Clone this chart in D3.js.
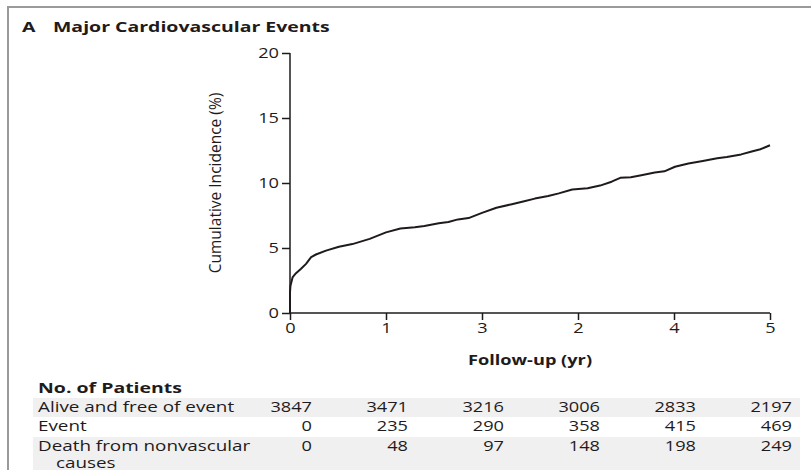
<!DOCTYPE html>
<html>
<head>
<meta charset="utf-8">
<script src="https://cdn.jsdelivr.net/npm/d3@7"></script>
<style>
  body { margin: 0; background: #fff; }
  text { font-family: "Open Sans", "Noto Sans", sans-serif; fill: #1f1b1c; }
</style>
</head>
<body>
<div id="chart_area"></div>
<script>
// Data
var years = [0, 0, 0.005, 0.028, 0.0625, 0.115, 0.167, 0.22, 0.27, 0.375, 0.51, 0.65, 0.83, 1.0, 1.15,
             1.3, 1.4, 1.55, 1.65, 1.75, 1.86, 2.0, 2.15, 2.3, 2.44, 2.55, 2.69, 2.8, 2.94, 3.1, 3.23,
             3.35, 3.44, 3.55, 3.66, 3.8, 3.9, 4.01, 4.15, 4.3, 4.45, 4.55, 4.7, 4.8, 4.9, 5.0];
var incidence = [0, 1.6, 2.1, 2.76, 3.06, 3.4, 3.78, 4.3, 4.5, 4.8, 5.1, 5.3, 5.7, 6.2, 6.5,
                 6.6, 6.7, 6.9, 7.0, 7.2, 7.3, 7.7, 8.1, 8.35, 8.6, 8.8, 9.0, 9.2, 9.5, 9.6, 9.8,
                 10.1, 10.4, 10.45, 10.6, 10.8, 10.9, 11.25, 11.5, 11.7, 11.9, 12.0, 12.2, 12.4, 12.6, 12.9];
var xTicks = [0, 1, 2, 3, 4, 5];
var xTickLabels = ["0", "1", "3", "2", "4", "5"];   // as printed in the original
var yTicks = [0, 5, 10, 15, 20];

var rowLabels = [["Alive and free of event"], ["Event"], ["Death from nonvascular", "causes"]];
var aliveFree = [3847, 3471, 3216, 3006, 2833, 2197];
var events = [0, 235, 290, 358, 415, 469];
var deaths = [0, 48, 97, 148, 198, 249];

var frame_width = 811, frame_height = 470;
var sx = 1.3;   // the reference type is drawn wide
var svg = d3.select("#chart_area").append("svg")
    .attr("width", frame_width)
    .attr("height", frame_height);

// wide text helper
function wideText(parent, x, y, str, size, bold, anchor) {
  return parent.append("text")
    .attr("transform", "translate(" + x + "," + y + ") scale(" + sx + ",1)")
    .attr("text-anchor", anchor || "start")
    .style("font-size", size + "px")
    .style("font-weight", bold ? "bold" : "normal")
    .text(str);
}

// grey panel frame
svg.append("path")
    .attr("d", "M8," + frame_height + "V7H" + frame_width)
    .attr("fill", "none")
    .attr("stroke", "#9a9a9a")
    .attr("stroke-width", 2);

wideText(svg, 22, 32, "A", 15, true);
wideText(svg, 53, 32, "Major Cardiovascular Events", 15, true);

// plot area
var margin = {top: 53, left: 290};
var canvas_width = 480, canvas_height = 260;
var canvas = svg.append("g")
    .attr("transform", "translate(" + margin.left + "," + margin.top + ")");

var xScale = d3.scaleLinear().domain([0, 5]).range([0, canvas_width]);
var yScale = d3.scaleLinear().domain([0, 20]).range([canvas_height, 0]);

var xAxis = d3.axisBottom(xScale).tickValues(xTicks).tickSize(7).tickPadding(3)
    .tickFormat(function(d, i) { return xTickLabels[i]; });
var yAxis = d3.axisLeft(yScale).tickValues(yTicks).tickSize(8).tickPadding(3);

var gx = canvas.append("g")
    .attr("transform", "translate(0," + canvas_height + ")")
    .call(xAxis);
var gy = canvas.append("g").call(yAxis);

[gx, gy].forEach(function(g) {
  g.select(".domain").attr("stroke", "#1f1b1c").attr("stroke-width", 1.5);
  g.selectAll(".tick line").attr("stroke", "#1f1b1c").attr("stroke-width", 1.5);
  g.selectAll(".tick text").style("font-size", "14px").attr("fill", "#1f1b1c")
    .attr("transform", "scale(" + sx + ",1)");
});
gy.selectAll(".tick text").attr("x", -11 / sx);
gx.select(".domain").attr("d", "M0,0H" + canvas_width);
gy.select(".domain").attr("d", "M0," + canvas_height + "V0");

canvas.append("text")
    .attr("transform", "translate(-69," + (canvas_height / 2) + ") rotate(-90)")
    .attr("text-anchor", "middle")
    .style("font-size", "15.5px")
    .text("Cumulative Incidence (%)");

wideText(canvas, canvas_width / 2, canvas_height + 52, "Follow-up (yr)", 14, true, "middle");

var line = d3.line()
    .x(function(d) { return xScale(d[0]); })
    .y(function(d) { return yScale(d[1]); });
canvas.append("path")
    .datum(years.map(function(t, i) { return [t, incidence[i]]; }))
    .attr("d", line)
    .attr("fill", "none")
    .attr("stroke", "#1f1b1c")
    .attr("stroke-width", 2)
    .attr("stroke-linejoin", "round");

// number-at-risk table
var table = svg.append("g");
wideText(table, 38, 393, "No. of Patients", 15, true);

var rowTop = [398, 417, 437];
var rowHeight = [19, 19, 33];
var rows = [aliveFree, events, deaths];
var colRight = function(i) { return margin.left + xScale(i) + 22; };

rows.forEach(function(vals, r) {
  if (r !== 1) {
    table.append("rect")
      .attr("x", 33).attr("y", rowTop[r])
      .attr("width", 800 - 33).attr("height", rowHeight[r])
      .attr("fill", "#f0f0f0");
  }
  rowLabels[r].forEach(function(lbl, k) {
    wideText(table, k === 0 ? 38 : 56, rowTop[r] + 14 + k * 17, lbl, 14.5, false);
  });
  vals.forEach(function(d, i) {
    wideText(table, colRight(i), rowTop[r] + 14, String(d), 14, false, "end");
  });
});
</script>
</body>
</html>
